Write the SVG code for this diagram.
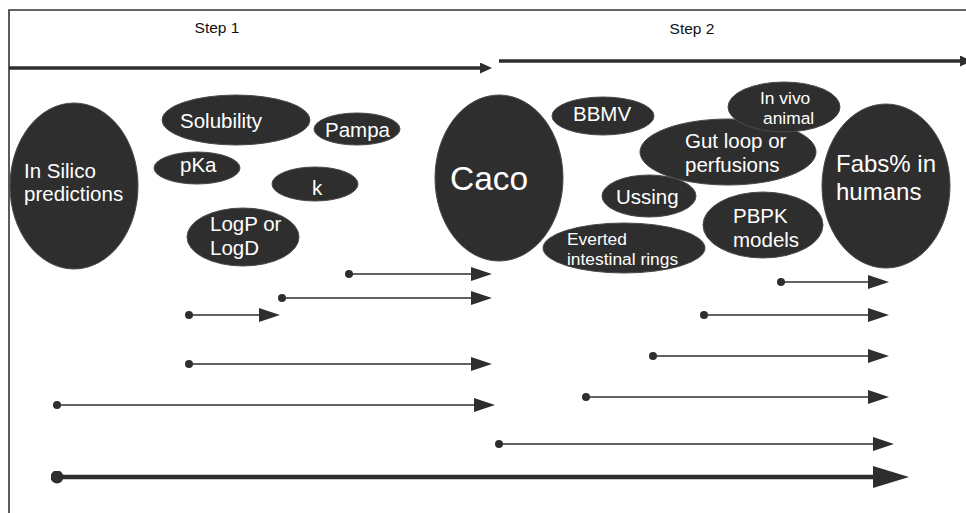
<svg xmlns="http://www.w3.org/2000/svg" width="966" height="513" viewBox="0 0 966 513">
<defs>
<style>
.frame{fill:none;stroke:#333;stroke-width:1.6}
.node ellipse{fill:#2e2e2e;stroke:#4a4a4a;stroke-width:1}
.node text{fill:#fff;font-family:"Liberation Sans",Arial,sans-serif;font-size:20.5px}
.step{fill:#111;font-family:"Liberation Sans",Arial,sans-serif;font-size:15.5px;text-anchor:middle}
.thin{stroke:#2e2e2e;stroke-width:1.6;fill:none;marker-start:url(#dot);marker-end:url(#head)}
.thick{stroke:#2e2e2e;stroke-width:4.5;fill:none;marker-start:url(#bigdot);marker-end:url(#bighead)}
.top{stroke:#2e2e2e;stroke-width:3.4;fill:none;marker-end:url(#tophead)}
</style>
<marker id="head" viewBox="0 0 21 14" refX="1" refY="7" markerWidth="21" markerHeight="14" markerUnits="userSpaceOnUse" orient="auto"><path d="M0,0 L21,7 L0,14 z" fill="#2e2e2e"/></marker>
<marker id="bighead" viewBox="0 0 36 22" refX="1" refY="11" markerWidth="36" markerHeight="22" markerUnits="userSpaceOnUse" orient="auto"><path d="M0,0 L36,11 L0,22 z" fill="#2e2e2e"/></marker>
<marker id="tophead" viewBox="0 0 12 11" refX="1" refY="5.5" markerWidth="12" markerHeight="11" markerUnits="userSpaceOnUse" orient="auto"><path d="M0,0 L12,5.5 L0,11 z" fill="#2e2e2e"/></marker>
<marker id="dot" viewBox="0 0 8 8" refX="4" refY="4" markerWidth="8" markerHeight="8" markerUnits="userSpaceOnUse"><circle cx="4" cy="4" r="4" fill="#2e2e2e"/></marker>
<marker id="bigdot" viewBox="0 0 13 13" refX="6.5" refY="6.5" markerWidth="13" markerHeight="13" markerUnits="userSpaceOnUse"><circle cx="6.5" cy="6.5" r="6.5" fill="#2e2e2e"/></marker>
</defs>
<rect width="966" height="513" fill="#fff"/>
<path class="frame" d="M9,513 L9,10 L966,10"/>
<text class="step" x="217" y="33">Step 1</text>
<text class="step" x="692" y="34">Step 2</text>

<g id="in-silico" class="node"><ellipse cx="74" cy="186" rx="64" ry="83"/><text x="24" y="178">In Silico</text><text x="24" y="201">predictions</text></g>
<g id="solubility" class="node"><ellipse cx="236" cy="120" rx="74" ry="25"/><text x="180" y="128">Solubility</text></g>
<g id="pampa" class="node"><ellipse cx="357" cy="129" rx="43" ry="16"/><text x="325" y="137">Pampa</text></g>
<g id="pka" class="node"><ellipse cx="197" cy="168" rx="43" ry="16"/><text x="180" y="172">pKa</text></g>
<g id="k" class="node"><ellipse cx="315" cy="184" rx="43" ry="17"/><text x="312" y="195">k</text></g>
<g id="logp" class="node"><ellipse cx="243" cy="237" rx="56" ry="29"/><text x="210" y="231">LogP or</text><text x="210" y="255">LogD</text></g>
<g id="caco" class="node"><ellipse cx="499" cy="178" rx="64" ry="83"/><text x="450" y="190" style="font-size:33.5px">Caco</text></g>
<g id="bbmv" class="node"><ellipse cx="603" cy="116" rx="51" ry="19"/><text x="573" y="121">BBMV</text></g>
<g id="gut-loop" class="node"><ellipse cx="728" cy="152" rx="88" ry="33"/><text x="685" y="148">Gut loop or</text><text x="685" y="172">perfusions</text></g>
<g id="in-vivo" class="node"><ellipse cx="784" cy="107" rx="56" ry="25"/><text x="760" y="104" style="font-size:17.4px">In vivo</text><text x="763" y="124" style="font-size:17.4px">animal</text></g>
<g id="ussing" class="node"><ellipse cx="649" cy="196" rx="47" ry="21"/><text x="616" y="204">Ussing</text></g>
<g id="everted" class="node"><ellipse cx="624" cy="248" rx="81" ry="25"/><text x="567" y="245" style="font-size:17.4px">Everted</text><text x="567" y="265" style="font-size:17.4px">intestinal rings</text></g>
<g id="pbpk" class="node"><ellipse cx="763" cy="225" rx="60" ry="33"/><text x="733" y="223">PBPK</text><text x="733" y="247">models</text></g>
<g id="fabs" class="node"><ellipse cx="886" cy="186" rx="64" ry="82"/><text x="836" y="172" style="font-size:24px">Fabs% in</text><text x="836" y="200" style="font-size:24px">humans</text></g>

<g id="connectors">
<line class="top" x1="9" y1="68" x2="481" y2="68"/>
<line class="top" x1="499" y1="61" x2="961" y2="61"/>
<line class="thin" x1="349" y1="274" x2="472" y2="274"/>
<line class="thin" x1="282" y1="298" x2="472" y2="298"/>
<line class="thin" x1="189" y1="315" x2="260" y2="315"/>
<line class="thin" x1="189" y1="364" x2="472" y2="364"/>
<line class="thin" x1="57" y1="405" x2="475" y2="405"/>
<line class="thin" x1="499" y1="444" x2="874" y2="444"/>
<line class="thin" x1="781" y1="282" x2="869" y2="282"/>
<line class="thin" x1="704" y1="315" x2="869" y2="315"/>
<line class="thin" x1="653" y1="356" x2="869" y2="356"/>
<line class="thin" x1="586" y1="397" x2="869" y2="397"/>
<line class="thick" x1="57" y1="477" x2="874" y2="477"/>
</g>
</svg>
